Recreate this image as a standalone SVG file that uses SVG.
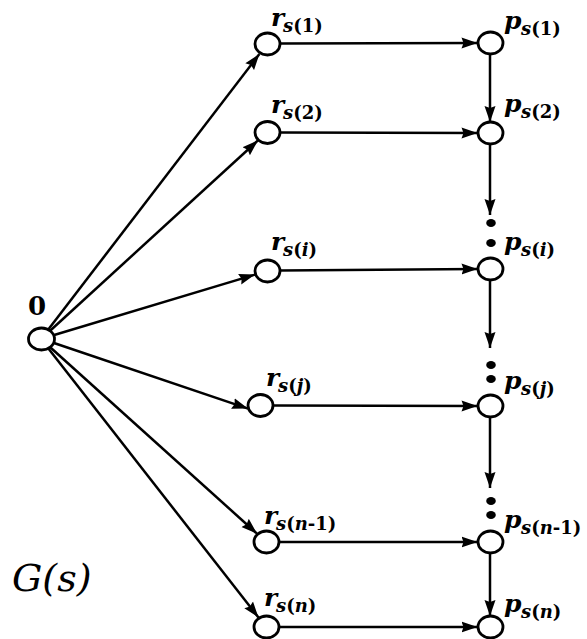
<svg xmlns="http://www.w3.org/2000/svg" width="587" height="639" viewBox="0 0 587 639" font-family="'DejaVu Serif', 'Liberation Serif', serif">
<style>
.node{fill:#fff;stroke:#000;stroke-width:2.8}
.edge{stroke:#000;stroke-width:2.5;fill:none;marker-end:url(#ah)}
.dot{fill:#000}
.t{font-family:'DejaVu Serif','Liberation Serif',serif;font-weight:bold;fill:#000}
.m{font-size:25px;font-style:italic}
.s{font-size:18px}
.i{font-style:italic}
.g{font-family:'DejaVu Serif','Liberation Serif',serif;font-size:38px;font-style:italic;fill:#000}
</style>
<defs>
<marker id="ah" markerUnits="userSpaceOnUse" markerWidth="17" markerHeight="12" refX="16" refY="6" orient="auto">
<path d="M0,0.5 L16,6 L0,11.5 L2,6 z" fill="#000"/>
</marker>
</defs>
<rect width="587" height="639" fill="#fff"/>
<g id="connectors">
<line class="edge" x1="48.3" y1="329.5" x2="259.4" y2="54"/>
<line class="edge" x1="49.8" y1="331" x2="258" y2="140.4"/>
<line class="edge" x1="52.5" y1="335.5" x2="255" y2="274.6"/>
<line class="edge" x1="52.5" y1="342.5" x2="248" y2="408.6"/>
<line class="edge" x1="49.9" y1="347" x2="257" y2="533.6"/>
<line class="edge" x1="48.4" y1="348.5" x2="258.5" y2="617.5"/>
<line class="edge" x1="280" y1="43.5" x2="477.5" y2="43"/>
<line class="edge" x1="280" y1="132.5" x2="477.5" y2="133"/>
<line class="edge" x1="280" y1="270.5" x2="477.5" y2="269"/>
<line class="edge" x1="273" y1="405.5" x2="477.5" y2="406"/>
<line class="edge" x1="279" y1="542" x2="477.5" y2="542"/>
<line class="edge" x1="279" y1="627" x2="477.5" y2="627"/>
<line class="edge" x1="490" y1="54" x2="490" y2="122"/>
<line class="edge" x1="490" y1="144" x2="490" y2="215"/>
<line class="edge" x1="490" y1="280" x2="490" y2="348"/>
<line class="edge" x1="490" y1="417" x2="490" y2="488"/>
<line class="edge" x1="490" y1="553" x2="490" y2="616"/>
</g>
<g id="dots">
<ellipse class="dot" cx="491" cy="223" rx="4.8" ry="4"/>
<ellipse class="dot" cx="491" cy="243" rx="4.8" ry="4"/>
<ellipse class="dot" cx="491" cy="365" rx="4.8" ry="4"/>
<ellipse class="dot" cx="491" cy="379" rx="4.8" ry="4"/>
<ellipse class="dot" cx="491" cy="501" rx="4.8" ry="4"/>
<ellipse class="dot" cx="491" cy="515" rx="4.8" ry="4"/>
</g>
<g id="n0">
<ellipse class="node" cx="41.5" cy="339" rx="13" ry="11"/>
<text class="t" x="28" y="315" font-size="26">0</text>
</g>
<g id="r1">
<ellipse class="node" cx="267.5" cy="44" rx="12.5" ry="11"/>
<text class="t" y="26"><tspan class="m" x="271">r</tspan><tspan class="s" x="283" y="32"><tspan class="i">s</tspan>(1)</tspan></text>
</g>
<g id="r2">
<ellipse class="node" cx="267.5" cy="132.5" rx="12.5" ry="11"/>
<text class="t" y="113"><tspan class="m" x="271">r</tspan><tspan class="s" x="283" y="119"><tspan class="i">s</tspan>(2)</tspan></text>
</g>
<g id="ri">
<ellipse class="node" cx="267.5" cy="271" rx="12.5" ry="11"/>
<text class="t" y="250"><tspan class="m" x="271">r</tspan><tspan class="s" x="283" y="256"><tspan class="i">s</tspan>(<tspan class="i">i</tspan>)</tspan></text>
</g>
<g id="rj">
<ellipse class="node" cx="260.5" cy="405.5" rx="12.5" ry="11"/>
<text class="t" y="386"><tspan class="m" x="266">r</tspan><tspan class="s" x="278" y="392"><tspan class="i">s</tspan>(<tspan class="i">j</tspan>)</tspan></text>
</g>
<g id="rn1">
<ellipse class="node" cx="266.5" cy="542" rx="12.5" ry="11"/>
<text class="t" y="524"><tspan class="m" x="264">r</tspan><tspan class="s" x="276" y="530"><tspan class="i">s</tspan>(<tspan class="i">n</tspan>-1)</tspan></text>
</g>
<g id="rn">
<ellipse class="node" cx="266.5" cy="627" rx="12.5" ry="11"/>
<text class="t" y="606"><tspan class="m" x="264">r</tspan><tspan class="s" x="276" y="612"><tspan class="i">s</tspan>(<tspan class="i">n</tspan>)</tspan></text>
</g>
<g id="p1">
<ellipse class="node" cx="490.5" cy="43" rx="12.5" ry="11"/>
<text class="t" y="29"><tspan class="m" x="504">p</tspan><tspan class="s" x="521" y="35"><tspan class="i">s</tspan>(1)</tspan></text>
</g>
<g id="p2">
<ellipse class="node" cx="490.5" cy="133" rx="12.5" ry="11"/>
<text class="t" y="112"><tspan class="m" x="504">p</tspan><tspan class="s" x="521" y="118"><tspan class="i">s</tspan>(2)</tspan></text>
</g>
<g id="pi">
<ellipse class="node" cx="490.5" cy="269" rx="12.5" ry="11"/>
<text class="t" y="250"><tspan class="m" x="504">p</tspan><tspan class="s" x="521" y="256"><tspan class="i">s</tspan>(<tspan class="i">i</tspan>)</tspan></text>
</g>
<g id="pj">
<ellipse class="node" cx="490.5" cy="406" rx="12.5" ry="11"/>
<text class="t" y="389"><tspan class="m" x="504">p</tspan><tspan class="s" x="521" y="395"><tspan class="i">s</tspan>(<tspan class="i">j</tspan>)</tspan></text>
</g>
<g id="pn1">
<ellipse class="node" cx="490.5" cy="542" rx="12.5" ry="11"/>
<text class="t" y="528"><tspan class="m" x="504">p</tspan><tspan class="s" x="521" y="534"><tspan class="i">s</tspan>(<tspan class="i">n</tspan>-1)</tspan></text>
</g>
<g id="pn">
<ellipse class="node" cx="490.5" cy="627" rx="12.5" ry="11"/>
<text class="t" y="612"><tspan class="m" x="504">p</tspan><tspan class="s" x="521" y="618"><tspan class="i">s</tspan>(<tspan class="i">n</tspan>)</tspan></text>
</g>
<g id="title">
<text class="g" x="12" y="591">G(s)</text>
</g>
</svg>
